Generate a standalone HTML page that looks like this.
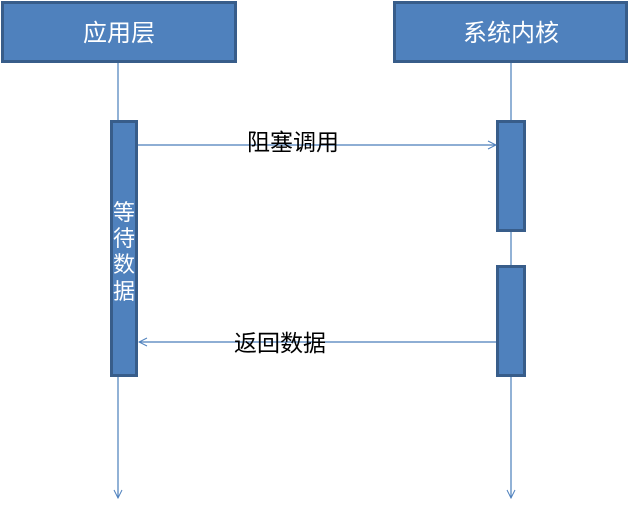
<!DOCTYPE html>
<html><head><meta charset="utf-8"><style>
body{margin:0;background:#fff;width:630px;height:509px;overflow:hidden}
</style></head><body>
<svg width="630" height="509" xmlns="http://www.w3.org/2000/svg" font-family="Liberation Sans, WenQuanYi Zen Hei, sans-serif">
<defs>
<marker id="a" markerWidth="10" markerHeight="10" refX="9" refY="5" orient="auto" markerUnits="userSpaceOnUse">
<path d="M1,1 L9,5 L1,9" fill="none" stroke="#4f81bd" stroke-width="1"/>
</marker>
</defs>
<g stroke="#4a7ebb" stroke-width="1.2">
<line x1="118" y1="62" x2="118" y2="498" marker-end="url(#a)"/>
<line x1="511" y1="62" x2="511" y2="498" marker-end="url(#a)"/>
</g>
<g fill="#4f81bd" stroke="#385d8a" stroke-width="3">
<rect x="2.5" y="2.5" width="233" height="59"/>
<rect x="394.5" y="2.5" width="232" height="59"/>
<rect x="111.5" y="121.5" width="25" height="254"/>
<rect x="497.5" y="121.5" width="27" height="109"/>
<rect x="497.5" y="266.5" width="27" height="109"/>
</g>
<g fill="#fff" font-size="24" text-anchor="middle">
<text x="119" y="41">应用层</text>
<text x="511" y="41">系统内核</text>
<text x="124" y="220" font-size="22">等</text>
<text x="124" y="246" font-size="22">待</text>
<text x="124" y="272" font-size="22">数</text>
<text x="124" y="299" font-size="22">据</text>
</g>
<g stroke="#4a7ebb" stroke-width="1.2">
<line x1="138" y1="145" x2="496" y2="145" marker-end="url(#a)"/>
<line x1="496" y1="342" x2="139" y2="342" marker-end="url(#a)"/>
</g>
<g fill="#000" font-size="23" text-anchor="middle">
<text x="293" y="150">阻塞调用</text>
<text x="280" y="351">返回数据</text>
</g>
</svg>
</body></html>
